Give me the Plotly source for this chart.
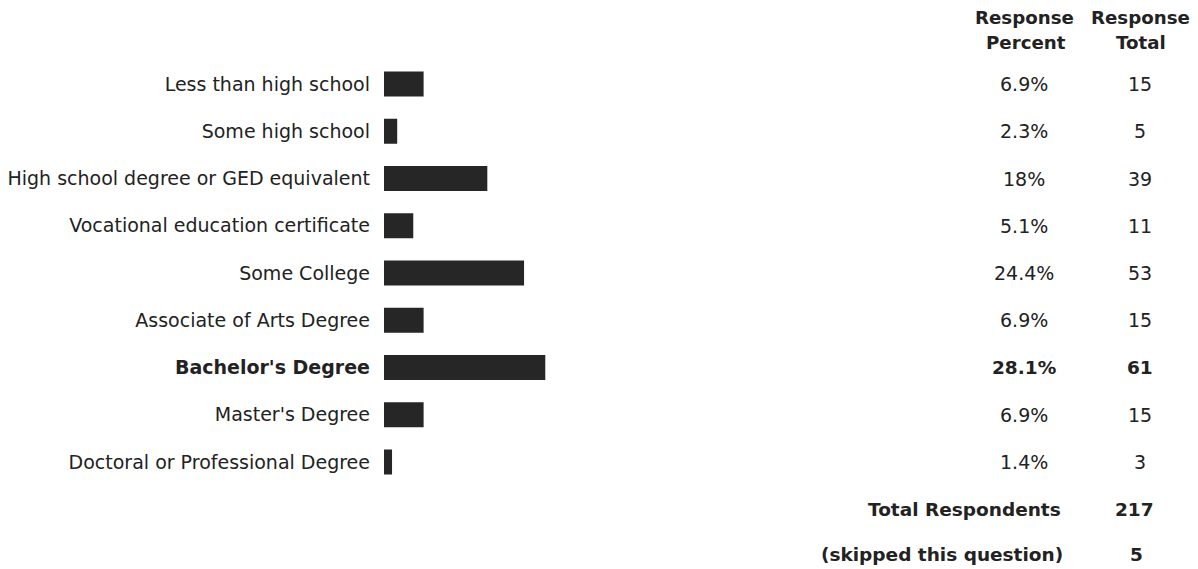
import plotly.graph_objects as go

categories = [
    "Less than high school",
    "Some high school",
    "High school degree or GED equivalent",
    "Vocational education certificate",
    "Some College",
    "Associate of Arts Degree",
    "Bachelor's Degree",
    "Master's Degree",
    "Doctoral or Professional Degree",
]
percent_values = [6.9, 2.3, 18, 5.1, 24.4, 6.9, 28.1, 6.9, 1.4]
percent_labels = ["6.9%", "2.3%", "18%", "5.1%", "24.4%", "6.9%", "28.1%", "6.9%", "1.4%"]
total_values = [15, 5, 39, 11, 53, 15, 61, 15, 3]
highlight = "Bachelor's Degree"
total_respondents = 217
skipped = 5

W, H = 1198, 569
FONT = "DejaVu Sans, Verdana, sans-serif"
TXT = "#222222"
FS = 19
FSB = 18.5

def wrap(c):
    return f"<b>{c}</b>" if c == highlight else c

fig = go.Figure(go.Bar(
    y=categories,
    x=percent_values,
    orientation="h",
    marker=dict(color="#262626", line=dict(width=0)),
    hoverinfo="skip",
))

row0_px, row_step = 84, 47.25
top_px = row0_px - row_step / 2
bot_px = row0_px + row_step * 8.5
col_pct_px, col_tot_px = 1024, 1140

fig.update_layout(
    width=W, height=H,
    margin=dict(l=0, r=0, t=0, b=0),
    paper_bgcolor="white", plot_bgcolor="white",
    showlegend=False,
    bargap=0.47,
    font=dict(family=FONT, size=FS, color=TXT),
    xaxis=dict(domain=[384 / W, 958 / W], range=[0, 100], visible=False),
    yaxis=dict(
        domain=[1 - bot_px / H, 1 - top_px / H],
        range=[8.5, -0.5],
        tickmode="array",
        tickvals=categories,
        ticktext=[wrap(c) for c in categories],
        showgrid=False, zeroline=False, showline=False,
        ticks="", ticklabelstandoff=13,
        tickfont=dict(family=FONT, size=FS, color=TXT),
    ),
)

ann = []
def add(text, xpx, ypx, bold=False, xanchor="center", size=None):
    ann.append(dict(
        text=f"<b>{text}</b>" if bold else text,
        x=xpx / W, y=1 - ypx / H, xref="paper", yref="paper",
        xanchor=xanchor, yanchor="middle", showarrow=False,
        font=dict(family=FONT, size=size or (FSB if bold else FS), color=TXT),
    ))

add("Response", 1024, 17, bold=True, size=18.2)
add("Percent", 1026, 42, bold=True, size=18.2)
add("Response", 1140, 17, bold=True, size=18.2)
add("Total", 1141, 42, bold=True, size=18.2)

for i, c in enumerate(categories):
    y = row0_px + i * row_step
    b = c == highlight
    add(percent_labels[i], col_pct_px, y, bold=b)
    add(str(total_values[i]), col_tot_px, y, bold=b)

add("Total Respondents", 1063, row0_px + 9 * row_step, bold=True, xanchor="right")
add(str(total_respondents), 1134, row0_px + 9 * row_step, bold=True)
add("(skipped this question)", 1065, row0_px + 10 * row_step - 2, bold=True, xanchor="right")
add(str(skipped), 1136, row0_px + 10 * row_step - 2, bold=True)

fig.update_layout(annotations=ann)
fig.write_html("out.html")
